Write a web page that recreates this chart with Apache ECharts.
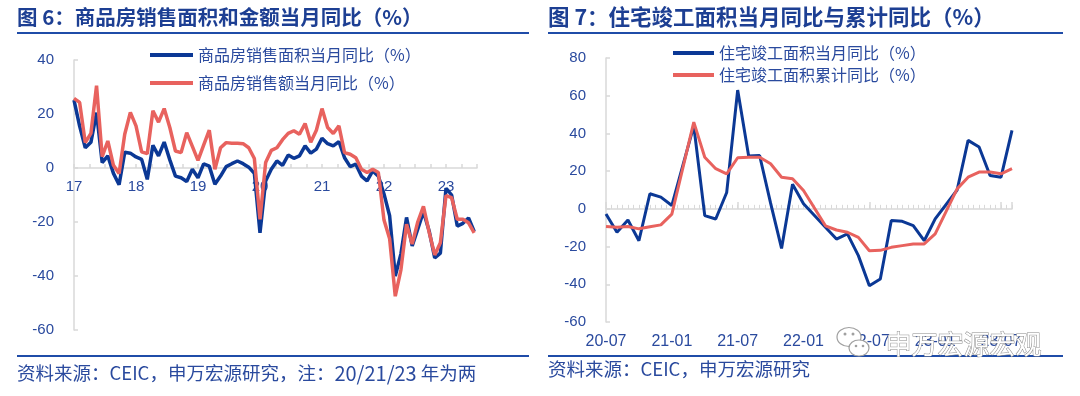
<!DOCTYPE html>
<html><head><meta charset="utf-8">
<script src="https://cdn.jsdelivr.net/npm/echarts@6/dist/echarts.min.js"></script>
<style>html,body{margin:0;padding:0;background:#fff}#c{width:1080px;height:396px}</style>
</head><body><div id="c"></div>
<script>
// ---------- Chart A (图6) : 11 points per year, Jan-Feb combined ----------
const catA = ('17-02 17-03 17-04 17-05 17-06 17-07 17-08 17-09 17-10 17-11 17-12 ' +
  '18-02 18-03 18-04 18-05 18-06 18-07 18-08 18-09 18-10 18-11 18-12 ' +
  '19-02 19-03 19-04 19-05 19-06 19-07 19-08 19-09 19-10 19-11 19-12 ' +
  '20-02 20-03 20-04 20-05 20-06 20-07 20-08 20-09 20-10 20-11 20-12 ' +
  '21-02 21-03 21-04 21-05 21-06 21-07 21-08 21-09 21-10 21-11 21-12 ' +
  '22-02 22-03 22-04 22-05 22-06 22-07 22-08 22-09 22-10 22-11 22-12 ' +
  '23-02 23-03 23-04 23-05 23-06 23-07').split(' ');
const yearLabelsA = ['17','18','19','20','21','22','23'];
const areaA = [25.1,15.5,7.5,9.5,20.5,2.0,4.5,-2.0,-6.2,5.8,5.5,
  4.1,3.2,-4.2,8.4,4.5,9.6,3.0,-3.0,-3.6,-5.0,-0.5,
  -3.6,1.5,0.7,-6.0,-3.0,0.5,1.6,2.6,1.6,0.3,-2.0,
  -24.0,-4.8,-0.5,2.6,1.0,4.8,3.6,4.5,8.2,5.5,7.0,
  11.0,9.0,8.2,9.8,3.8,0.5,1.4,-3.0,-4.8,-1.1,-3.0,
  -9.6,-17.7,-40.0,-31.8,-18.3,-28.9,-22.6,-16.2,-23.2,-33.3,-31.5,
  -7.5,-10.0,-21.5,-20.5,-18.5,-23.5];
const amountA = [25.8,24.3,9.4,12.8,30.5,4.2,10.0,1.0,-2.0,12.5,20.6,
  15.6,6.0,5.3,21.2,17.0,22.0,15.0,6.3,5.7,13.1,8.0,
  2.8,8.5,14.0,-0.5,7.5,9.4,9.2,9.2,9.0,7.5,3.5,
  -19.0,2.0,6.5,7.5,10.5,12.8,13.8,12.5,16.5,9.5,14.0,
  22.0,15.0,12.8,15.6,5.7,5.1,3.8,-0.5,-1.7,-0.5,-1.7,
  -19.3,-26.2,-47.5,-37.7,-20.8,-28.2,-19.9,-14.2,-23.7,-32.2,-27.7,
  -10.2,-11.0,-19.0,-19.0,-20.3,-24.0];
const nameA1 = '商品房销售面积当月同比（%）';
const nameA2 = '商品房销售额当月同比（%）';

// ---------- Chart B (图7) : monthly, month-end dates, Jan merged into Feb ----------
const catB = ['20-06','20-07','20-08','20-09','20-10','20-11','20-12',
  '21-01','21-02','21-03','21-04','21-05','21-06','21-07','21-08','21-09','21-10','21-11','21-12',
  '22-01','22-02','22-03','22-04','22-05','22-06','22-07','22-08','22-09','22-10','22-11','22-12',
  '23-01','23-02','23-03','23-04','23-05','23-06','23-07'];
const tickLabelsB = ['20-07','21-01','21-07','22-01','22-07','23-01','23-07'];
const monthB = [-2.7,-12.4,-5.9,-16.9,8.0,6.2,1.8,
  null,44.0,-3.6,-5.4,8.7,63.0,28.0,28.3,3.0,-21.0,13.0,2.7,
  null,-9.8,-16.0,-13.3,-24.8,-40.8,-37.2,-6.2,-6.6,-8.9,-16.9,-5.3,
  null,10.0,36.3,32.8,17.7,16.8,41.6];
const cumB = [-9.4,-9.8,-9.4,-10.6,-9.5,-8.5,-2.8,
  null,46.0,27.4,21.3,18.6,27.1,27.4,27.4,23.9,16.8,16.0,9.7,
  null,-9.0,-11.2,-12.4,-15.1,-22.2,-22.0,-20.4,-19.5,-18.6,-18.6,-13.3,
  null,10.6,16.8,19.5,19.5,18.6,21.3];
const nameB1 = '住宅竣工面积当月同比（%）';
const nameB2 = '住宅竣工面积累计同比（%）';

const BLUE = '#0B3895', RED = '#E8625E';
const TXT = '#2A4A9E', TITLE = '#1D3F93', AXIS = '#D9D9D9', RULE = '#1F4CA8';
const NUMF = '"Liberation Sans", Arial, sans-serif';
const CJKF = '"Noto Sans CJK SC", "Noto Sans", sans-serif';

const chart = echarts.init(document.getElementById('c'), null, {renderer: 'canvas'});
const pairs = arr => arr.map((v, i) => [i, v]);

const yAx = (grid, min, max) => ({
  gridIndex: grid, type: 'value', min: min, max: max, interval: 20,
  axisLine: {show: true, lineStyle: {color: AXIS, width: 1.5}},
  axisTick: {show: true, inside: true, length: 4, lineStyle: {color: AXIS, width: 1.5}},
  splitLine: {show: false},
  axisLabel: {color: TXT, fontSize: 15, fontFamily: NUMF, margin: 20}
});

const yearFmt = v => {
  const k = Math.round(v / 11);
  return (Math.abs(v / 11 - k) < 1e-6 && k < yearLabelsA.length) ? yearLabelsA[k] : '';
};

chart.setOption({
  animation: false,
  grid: [
    {left: 74, top: 60, width: 403, height: 270},
    {left: 606, top: 58, width: 406, height: 264}
  ],
  xAxis: [
    {gridIndex: 0, type: 'value', min: 0, max: 71.5, interval: 2.75,
     axisLine: {onZero: true, lineStyle: {color: AXIS, width: 1.5}},
     axisTick: {inside: true, length: 4, lineStyle: {color: AXIS, width: 1.5}},
     splitLine: {show: false}, axisLabel: {show: false}},
    {gridIndex: 0, type: 'value', min: 0, max: 71.5, interval: 2.75, position: 'bottom', offset: -163,
     axisLine: {show: false, onZero: false}, axisTick: {show: false}, splitLine: {show: false},
     axisLabel: {color: TXT, fontSize: 15, fontFamily: NUMF, margin: 12, formatter: yearFmt}},
    {gridIndex: 1, type: 'value', min: 0, max: 37, interval: 0.5,
     axisLine: {onZero: true, lineStyle: {color: AXIS, width: 1.5}},
     axisTick: {inside: true, length: 4, lineStyle: {color: AXIS, width: 1}},
     splitLine: {show: false}, axisLabel: {show: false}},
    {gridIndex: 1, type: 'value', min: 0, max: 37, interval: 6, position: 'bottom',
     axisLine: {show: false, onZero: false}, axisTick: {show: false}, splitLine: {show: false},
     axisLabel: {color: TXT, fontSize: 16, fontFamily: NUMF, margin: 12,
       formatter: v => (v % 6 === 0 && v / 6 < tickLabelsB.length) ? tickLabelsB[v / 6] : ''}},
    {gridIndex: 1, type: 'value', min: 0, max: 37, interval: 12, position: 'bottom', offset: -113.1,
     axisLine: {show: false, onZero: false},
     axisTick: {inside: true, length: 7, lineStyle: {color: AXIS, width: 1.5}},
     splitLine: {show: false}, axisLabel: {show: false}}
  ],
  yAxis: [yAx(0, -60, 40), yAx(1, -60, 80)],
  legend: [
    {data: [nameA1, nameA2], orient: 'vertical', left: 150, top: 45, padding: 0, itemWidth: 43, itemHeight: 4,
     itemGap: 8, icon: 'rect', textStyle: {color: TXT, fontSize: 16, fontFamily: CJKF, lineHeight: 20}},
    {data: [nameB1, nameB2], orient: 'vertical', left: 673, top: 43, padding: 0, itemWidth: 41, itemHeight: 4,
     itemGap: 2, icon: 'rect', textStyle: {color: TXT, fontSize: 16, fontFamily: CJKF, lineHeight: 20}}
  ],
  series: [
    {name: nameA1, type: 'line', xAxisIndex: 0, yAxisIndex: 0, data: pairs(areaA), showSymbol: false,
     symbol: 'none', connectNulls: true, lineStyle: {color: BLUE, width: 3.5}, itemStyle: {color: BLUE}},
    {name: nameA2, type: 'line', xAxisIndex: 0, yAxisIndex: 0, data: pairs(amountA), showSymbol: false,
     symbol: 'none', connectNulls: true, lineStyle: {color: RED, width: 3.5}, itemStyle: {color: RED}},
    {name: nameB1, type: 'line', xAxisIndex: 2, yAxisIndex: 1, data: pairs(monthB), showSymbol: false,
     symbol: 'none', connectNulls: true, lineStyle: {color: BLUE, width: 3}, itemStyle: {color: BLUE}},
    {name: nameB2, type: 'line', xAxisIndex: 2, yAxisIndex: 1, data: pairs(cumB), showSymbol: false,
     symbol: 'none', connectNulls: true, lineStyle: {color: RED, width: 3}, itemStyle: {color: RED}}
  ],
  graphic: [
    {type: 'text', left: 17, top: 7, style: {text: '图 6：商品房销售面积和金额当月同比（%）', fill: TITLE,
      font: 'bold 20.5px ' + CJKF}},
    {type: 'text', left: 548, top: 6, style: {text: '图 7：住宅竣工面积当月同比与累计同比（%）', fill: TITLE,
      font: 'bold 21.5px ' + CJKF}},
    {type: 'line', shape: {x1: 17, y1: 33, x2: 529, y2: 33}, style: {stroke: RULE, lineWidth: 2}},
    {type: 'line', shape: {x1: 548, y1: 33, x2: 1063, y2: 33}, style: {stroke: RULE, lineWidth: 2}},
    {type: 'line', shape: {x1: 17, y1: 356, x2: 529, y2: 356}, style: {stroke: RULE, lineWidth: 2}},
    {type: 'line', shape: {x1: 548, y1: 356, x2: 1063, y2: 356}, style: {stroke: RULE, lineWidth: 2}},
    {type: 'text', left: 17, top: 363, style: {
      text: '{a|资料来源：CEIC，申万宏源研究，注：}{d|20/21/23}{a| 年为两}',
      rich: {a: {fill: TXT, fontSize: 18.5, fontFamily: CJKF}, d: {fill: TXT, fontSize: 20, fontFamily: CJKF}}}},
    {type: 'text', left: 548, top: 360, style: {text: '资料来源：CEIC，申万宏源研究', fill: TXT,
      font: '18.5px ' + CJKF}},
    {type: 'ellipse', shape: {cx: 849, cy: 337, rx: 12, ry: 9.5}, z: 100, style: {fill: '#fff', stroke: '#a0a0a0', lineWidth: 1.2}},
    {type: 'ellipse', shape: {cx: 859, cy: 348, rx: 10, ry: 8}, z: 101, style: {fill: '#fff', stroke: '#a0a0a0', lineWidth: 1.2}},
    {type: 'circle', shape: {cx: 845, cy: 334, r: 1.5}, z: 102, style: {fill: '#a0a0a0'}},
    {type: 'circle', shape: {cx: 853, cy: 334, r: 1.5}, z: 102, style: {fill: '#a0a0a0'}},
    {type: 'circle', shape: {cx: 856, cy: 346, r: 1.3}, z: 102, style: {fill: '#a0a0a0'}},
    {type: 'circle', shape: {cx: 863, cy: 346, r: 1.3}, z: 102, style: {fill: '#a0a0a0'}},
    {type: 'text', left: 885, top: 331, z: 100, style: {text: '申万宏源宏观', fill: '#ffffff',
      stroke: '#8a8a8a', lineWidth: 1, font: '26px ' + CJKF}}
  ]
});
</script></body></html>
